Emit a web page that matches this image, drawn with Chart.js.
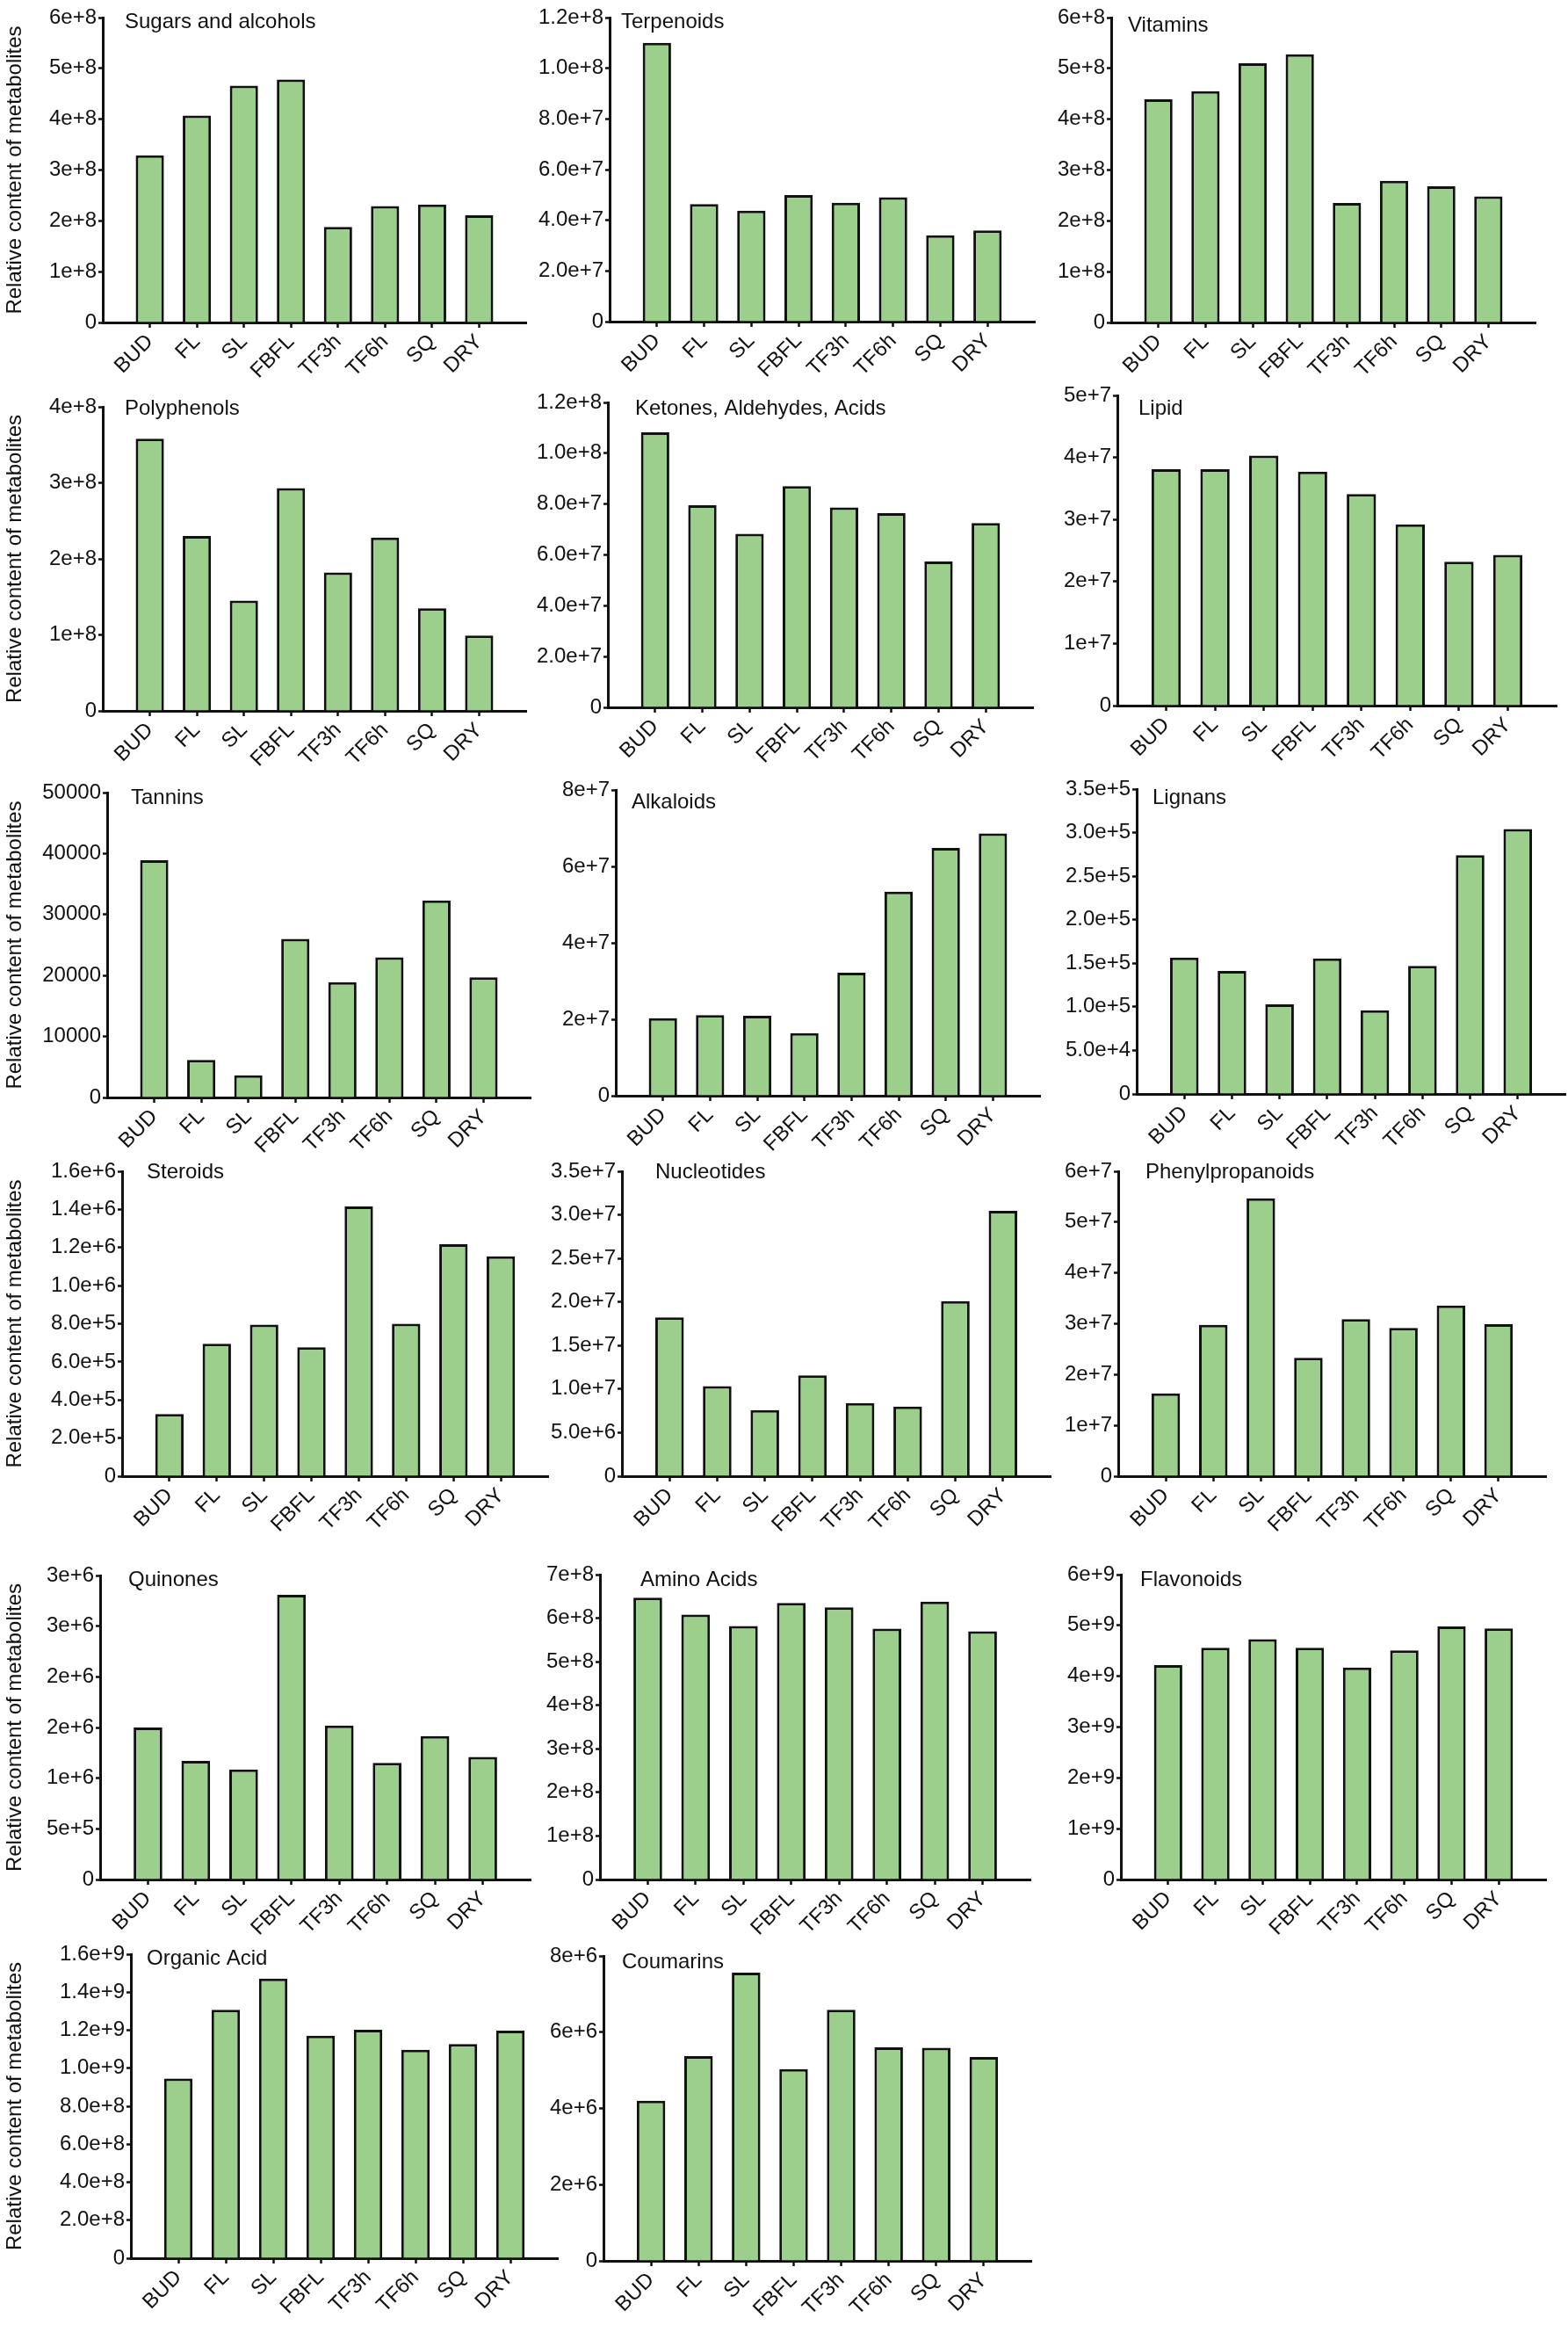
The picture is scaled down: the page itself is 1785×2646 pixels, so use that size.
<!DOCTYPE html>
<html>
<head>
<meta charset="utf-8">
<script src="https://cdn.jsdelivr.net/npm/chart.js@4.4.1/dist/chart.umd.min.js"></script>
<style>
  html, body { margin: 0; padding: 0; background: #fff; }
  #fig { position: relative; width: 1785px; height: 2646px; overflow: hidden; background: #fff; }
  #fig canvas { position: absolute; }
</style>
</head>
<body>
<div id="fig"></div>
<script>
// sampling stages (x axis)
var stages = ['BUD', 'FL', 'SL', 'FBFL', 'TF3h', 'TF6h', 'SQ', 'DRY'];

// relative content per class
var sugarsAlcohols = [3.29e8, 4.07e8, 4.66e8, 4.78e8, 1.88e8, 2.29e8, 2.32e8, 2.11e8];
var terpenoids     = [1.10e8, 4.64e7, 4.38e7, 4.99e7, 4.69e7, 4.91e7, 3.41e7, 3.60e7];
var vitamins       = [4.39e8, 4.55e8, 5.10e8, 5.28e8, 2.35e8, 2.79e8, 2.68e8, 2.48e8];
var polyphenols    = [3.58e8, 2.30e8, 1.45e8, 2.93e8, 1.82e8, 2.28e8, 1.35e8, 0.99e8];
var ketones        = [1.082e8, 7.95e7, 6.83e7, 8.71e7, 7.87e7, 7.64e7, 5.74e7, 7.25e7];
var lipid          = [3.81e7, 3.81e7, 4.03e7, 3.77e7, 3.41e7, 2.92e7, 2.32e7, 2.43e7];
var tannins        = [38900, 6150, 3650, 26000, 18900, 23000, 32300, 19700];
var alkaloids      = [2.03e7, 2.11e7, 2.09e7, 1.64e7, 3.22e7, 5.34e7, 6.48e7, 6.86e7];
var lignans        = [1.565e5, 1.413e5, 1.03e5, 1.555e5, 0.96e5, 1.47e5, 2.74e5, 3.04e5];
var steroids       = [3.26e5, 6.95e5, 7.95e5, 6.77e5, 1.415e6, 8.0e5, 1.217e6, 1.154e6];
var nucleotides    = [1.824e7, 1.033e7, 7.6e6, 1.157e7, 8.4e6, 8.0e6, 2.01e7, 3.045e7];
var phenylprop     = [1.63e7, 2.98e7, 5.47e7, 2.33e7, 3.09e7, 2.92e7, 3.36e7, 2.99e7];
var quinones       = [1.50e6, 1.17e6, 1.085e6, 2.81e6, 1.52e6, 1.15e6, 1.415e6, 1.21e6];
var aminoAcids     = [6.47e8, 6.08e8, 5.82e8, 6.35e8, 6.25e8, 5.76e8, 6.38e8, 5.70e8];
var flavonoids     = [4.22e9, 4.56e9, 4.73e9, 4.56e9, 4.17e9, 4.51e9, 4.98e9, 4.94e9];
var organicAcid    = [9.46e8, 1.307e9, 1.472e9, 1.171e9, 1.202e9, 1.097e9, 1.127e9, 1.198e9];
var coumarins      = [4.2e6, 5.37e6, 7.56e6, 5.03e6, 6.59e6, 5.60e6, 5.59e6, 5.35e6];

var series = [sugarsAlcohols, terpenoids, vitamins, polyphenols, ketones, lipid,
  tannins, alkaloids, lignans, steroids, nucleotides, phenylprop,
  quinones, aminoAcids, flavonoids, organicAcid, coumarins];

var titles = ['Sugars and alcohols', 'Terpenoids', 'Vitamins', 'Polyphenols',
  'Ketones, Aldehydes, Acids', 'Lipid', 'Tannins', 'Alkaloids', 'Lignans',
  'Steroids', 'Nucleotides', 'Phenylpropanoids', 'Quinones', 'Amino Acids',
  'Flavonoids', 'Organic Acid', 'Coumarins'];

// y axis ranges and tick labels (digits after the point, -1 = plain number)
var yMax   = [6e8, 1.2e8, 6e8, 4e8, 1.2e8, 5e7, 50000, 8e7, 3.5e5, 1.6e6, 3.5e7, 6e7, 3e6, 7e8, 6e9, 1.6e9, 8e6];
var yStep  = [1e8, 2e7, 1e8, 1e8, 2e7, 1e7, 10000, 2e7, 5e4, 2e5, 5e6, 1e7, 5e5, 1e8, 1e9, 2e8, 2e6];
var yDigits = [0, 1, 0, 0, 1, 0, -1, 0, 1, 1, 1, 0, 0, 0, 0, 1, 0];

// panel placement on the page
var axisX = [117, 694, 1265, 117, 692, 1272, 122, 701, 1294, 139, 708, 1273, 114, 683, 1276, 149, 687];
var topY  = [20, 20, 20, 463, 458, 450, 902, 899, 898, 1333, 1333, 1333, 1793, 1792, 1792, 2224, 2226];
var zeroY = [367, 366, 367, 809, 805, 803, 1249, 1247, 1245, 1680, 1680, 1680, 2139, 2139, 2139, 2570, 2573];
var axisLen = [482, 484, 483, 482, 484, 500, 482, 483, 488, 485, 488, 487, 490, 490, 484, 486, 487];
var titleDx = [25, 13, 19, 25, 31, 24, 27, 18, 18, 28, 38, 31, 32, 46, 22, 18, 21];
var titleDy = [12, 12, 16, 9, 14, 22, 13, 21, 17, 8, 8, 8, 12, 13, 13, 12, 14];

var FONT = '"Liberation Sans", Arial, Helvetica, sans-serif';
var INK = '#111';
var padTop = 20, xh = 84;

Chart.defaults.font.family = FONT;
Chart.defaults.font.size = 24;
Chart.defaults.color = INK;

function fmt(v, digits) {
  if (Math.abs(v) < 1e-9) return '0';
  if (digits < 0) return String(Math.round(v));
  return v.toExponential(digits);
}

// panel name drawn inside the plot, top left
var panelTitle = {
  id: 'panelTitle',
  afterDraw: function(chart, args, opts) {
    var ctx = chart.ctx, a = chart.chartArea;
    ctx.save();
    ctx.font = '24px ' + FONT;
    ctx.fillStyle = INK;
    ctx.textAlign = 'left';
    ctx.textBaseline = 'alphabetic';
    ctx.fillText(opts.text, a.left + opts.dx, a.top + opts.dy);
    ctx.restore();
  }
};

var fig = document.getElementById('fig');
var paddedLabels = [''].concat(stages).concat(['']);

function makePanel(i) {
  var col = i % 3;
  var yw = col === 0 ? axisX[i] : 100;
  var w = yw + axisLen[i] + 12;
  var h = padTop + (zeroY[i] - topY[i]) + xh;

  var cv = document.createElement('canvas');
  cv.width = w;
  cv.height = h;
  cv.style.left = (axisX[i] - yw) + 'px';
  cv.style.top = (topY[i] - padTop) + 'px';
  cv.style.width = w + 'px';
  cv.style.height = h + 'px';
  fig.appendChild(cv);

  var digits = yDigits[i];

  new Chart(cv.getContext('2d'), {
    type: 'bar',
    data: {
      labels: paddedLabels,
      datasets: [{
        data: [null].concat(series[i]).concat([null]),
        backgroundColor: '#9bcf8b',
        borderColor: INK,
        borderWidth: 3,
        borderSkipped: 'start',
        categoryPercentage: 1,
        barPercentage: 0.6
      }]
    },
    options: {
      responsive: false,
      animation: false,
      devicePixelRatio: 1,
      layout: { padding: { top: padTop, right: 12, left: 0, bottom: 0 } },
      plugins: {
        legend: { display: false },
        tooltip: { enabled: false },
        panelTitle: { text: titles[i], dx: titleDx[i], dy: titleDy[i] }
      },
      scales: {
        x: {
          offset: false,
          grid: { offset: false, drawOnChartArea: false, drawTicks: true, tickLength: 6,
                  color: INK, tickColor: INK, tickWidth: 2.5 },
          border: { display: true, color: INK, width: 3 },
          ticks: { autoSkip: false, minRotation: 45, maxRotation: 45, padding: 2,
                   font: { size: 24 }, color: INK },
          afterBuildTicks: function(s) {
            s.ticks = s.ticks.filter(function(t) { return t.value >= 1 && t.value <= stages.length; });
          },
          afterFit: function(s) { s.height = xh; }
        },
        y: {
          min: 0,
          max: yMax[i],
          grid: { drawOnChartArea: false, drawTicks: true, tickLength: 5,
                  color: INK, tickColor: INK, tickWidth: 2.5 },
          border: { display: true, color: INK, width: 3 },
          ticks: {
            stepSize: yStep[i],
            padding: 2,
            font: { size: 24 },
            color: INK,
            callback: function(v) { return fmt(v, digits); }
          },
          title: {
            display: col === 0,
            text: 'Relative content of metabolites',
            font: { size: 24 },
            color: INK,
            padding: { top: 3, bottom: 0 }
          },
          afterFit: function(s) { s.width = yw; }
        }
      }
    },
    plugins: [panelTitle]
  });
}

for (var i = 0; i < series.length; i++) {
  makePanel(i);
}
</script>
</body>
</html>
